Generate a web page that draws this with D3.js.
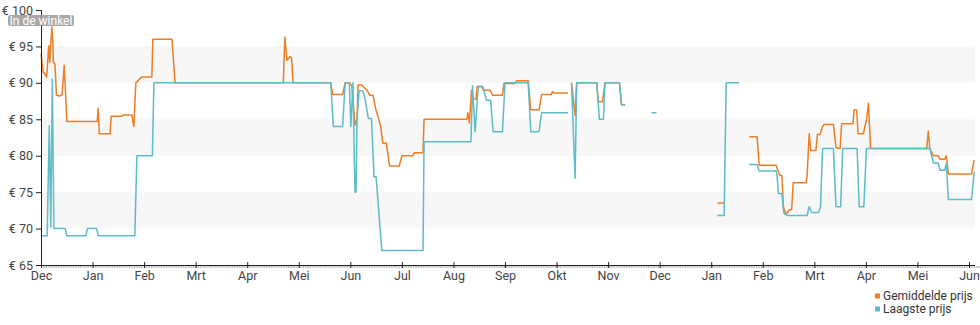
<!DOCTYPE html>
<html>
<head>
<meta charset="utf-8">
<script src="https://cdn.jsdelivr.net/npm/d3@7/dist/d3.min.js"></script>
<style>
  html, body { margin: 0; padding: 0; background: #fff; }
  svg { display: block; font-family: Roboto, "Noto Sans", sans-serif; }
</style>
</head>
<body>
<svg id="chart" width="980" height="325"></svg>
<script>
// Month labels along the x axis (one tick per month start)
const monthLabels = ["Dec","Jan","Feb","Mrt","Apr","Mei","Jun","Jul","Aug","Sep","Okt","Nov","Dec","Jan","Feb","Mrt","Apr","Mei","Jun"];

// Price ticks on the y axis
const priceTicks = [65, 70, 75, 80, 85, 90, 95, 100];

// Shaded price bands [from, to]
const bandFrom = [70, 80, 90];
const bandTo   = [75, 85, 95];

// Average price: position in months since the first December, and price (null = no data)
const avgMonth = [0,0.04,0.08,0.11,0.15,0.17,0.21,0.23,0.24,0.27,0.30,0.37,0.41,0.45,0.48,0.50,1.09,1.11,1.13,1.34,1.36,1.57,1.59,1.76,1.80,1.84,1.95,2.15,2.17,2.54,2.60,4.70,4.73,4.77,4.83,4.86,4.89,5.62,5.66,5.85,5.90,5.99,6.03,6.09,6.13,6.15,6.22,6.26,6.32,6.38,6.44,6.50,6.54,6.59,6.63,6.70,6.76,6.95,7.00,7.21,7.24,7.41,7.43,8.26,8.28,8.31,8.35,8.38,8.44,8.46,8.55,8.58,8.71,8.76,8.95,8.98,9.19,9.23,9.45,9.50,9.66,9.71,9.90,9.92,9.95,10.22,10.25,10.29,10.36,10.39,10.78,10.81,10.89,10.94,11.22,11.26,11.33,11.40,13.12,13.25,13.40,13.74,13.89,13.93,14.26,14.28,14.33,14.37,14.40,14.45,14.48,14.51,14.56,14.59,14.84,14.86,14.90,14.93,15.03,15.06,15.11,15.16,15.19,15.37,15.42,15.50,15.53,15.75,15.77,15.82,15.85,15.95,16.01,16.05,16.09,17.18,17.21,17.24,17.31,17.40,17.44,17.53,17.56,17.60,18.05,18.10];
const avgPrice = [94,91.5,91.2,90.8,95.1,92.8,97.7,95.5,92.8,92.6,88.3,88.2,88.4,92.4,88,84.7,84.7,86.5,83,83,85.4,85.4,85.6,85.6,84,90,90.8,90.8,96,96,90,90,96.3,93.1,93.6,93.4,90,90,88.4,88.4,90,90,89.5,84.2,85,89.7,89.7,89.4,89,88.3,88.3,86.2,85.3,84,81.7,81.7,78.6,78.6,80,80,80.4,80.4,85,85,85.9,84.5,89,87.8,87.8,89.5,89.5,89,89,88.3,88.3,89.9,89.9,90.3,90.3,86.3,86.3,88.4,88.4,88.8,88.6,88.6,null,90,85.5,90,90,87.4,87.4,90,90,87,87,null,73.5,73.5,null,82.6,82.6,78.7,78.7,78.2,77.3,77.3,73,72,72.2,72.6,72.6,76.3,76.3,77.3,83,80.7,80.7,82.9,82.9,84,84.3,84.3,81.1,81,84.4,84.4,86.3,86.3,83,83,84.9,87.2,81,81,83.4,81,80,80,79.5,79.5,80,77.5,77.5,79.4];

// Lowest price: position in months and price (null = no data)
const lowMonth = [0,0.12,0.16,0.19,0.22,0.25,0.47,0.50,0.87,0.90,1.08,1.11,1.82,1.86,2.16,2.19,5.62,5.67,5.85,5.90,5.98,6.01,6.05,6.09,6.11,6.13,6.17,6.24,6.28,6.35,6.41,6.46,6.50,6.61,7.41,7.43,8.34,8.37,8.42,8.48,8.57,8.64,8.72,8.77,8.95,9.00,9.45,9.50,9.66,9.71,10.22,10.25,10.29,10.36,10.39,10.78,10.83,10.91,10.94,11.22,11.26,11.33,11.50,11.84,11.94,12.50,13.12,13.25,13.29,13.54,13.64,13.74,13.89,13.93,14.26,14.28,14.30,14.37,14.41,14.47,14.86,14.90,14.95,15.08,15.12,15.16,15.37,15.42,15.51,15.55,15.83,15.87,15.96,16.01,17.24,17.31,17.40,17.44,17.53,17.56,17.60,18.05,18.10];
const lowPrice = [69,69,84.1,70.2,90.5,70,70,69,69,70,70,69,69,80,80,90,90,84,84,90,90,84,90,75,75,84.9,88.9,88.9,88,85.1,85.1,77.1,77.1,67,67,81.9,81.9,89.6,83.3,89.5,89.5,87.6,87.6,83.3,83.3,90,90,83.3,83.3,85.9,85.9,null,90,76.9,90,90,85,85,90,90,87,87,null,85.9,85.9,null,71.8,71.8,90,90,null,78.8,78.8,77.9,77.9,77.1,74.8,74.8,72.1,71.8,71.8,73,72.2,72.2,73,81,81,73,73,81,81,73,73,81,81,79,79,78,78,78.9,74,74,77.8];

const seriesNames  = ["Gemiddelde prijs", "Laagste prijs"];
const seriesColors = ["#ee7d24", "#5cbcc8"];

const svg = d3.select("#chart");
const margin = { left: 41, top: 10, right: 975, bottom: 265 };

const x = d3.scaleLinear().domain([0, 18]).range([41, 969]);
const y = d3.scaleLinear().domain([65, 100]).range([265, 10]);

// Shaded bands
svg.append("g").selectAll("rect")
  .data(bandFrom.map((f, i) => [f, bandTo[i]]))
  .join("rect")
  .attr("x", margin.left)
  .attr("width", margin.right - margin.left)
  .attr("y", d => y(d[1]))
  .attr("height", d => y(d[0]) - y(d[1]))
  .attr("fill", "#f7f7f7");

// Lines
function drawLine(months, prices, color) {
  const pts = months.map((m, i) => [m, prices[i]]);
  const line = d3.line()
    .defined(d => d[1] !== null)
    .x(d => x(d[0]))
    .y(d => y(d[1]));
  svg.append("path")
    .datum(pts)
    .attr("d", line)
    .attr("fill", "none")
    .attr("stroke", color)
    .attr("stroke-width", 1.5)
    .attr("stroke-linejoin", "round");
}
drawLine(avgMonth, avgPrice, seriesColors[0]);
drawLine(lowMonth, lowPrice, seriesColors[1]);

// Y axis
const yAxis = d3.axisLeft(y)
  .tickValues(priceTicks)
  .tickSize(5)
  .tickPadding(3)
  .tickFormat(d => "€ " + d);
const gy = svg.append("g").attr("transform", `translate(${margin.left},0)`).call(yAxis);
gy.select(".domain").attr("stroke", "#222");
gy.selectAll(".tick line").attr("stroke", "#222");
gy.selectAll(".tick text")
  .attr("fill", "#444")
  .style("font-size", "12.5px")
  .style("font-family", "Roboto, sans-serif");

// Minor day marks along the x axis
const dayMarks = d3.range(0, 18 * 30.5 + 8).map(d => d / 30.5);
svg.append("g").selectAll("line")
  .data(dayMarks)
  .join("line")
  .attr("x1", d => x(d) + 0.5)
  .attr("x2", d => x(d) + 0.5)
  .attr("y1", 266)
  .attr("y2", 268)
  .attr("stroke", "#888")
  .attr("stroke-width", 0.6);

// X axis
const xAxis = d3.axisBottom(x)
  .tickValues(d3.range(monthLabels.length))
  .tickSize(3)
  .tickPadding(3)
  .tickFormat(i => monthLabels[i]);
const gx = svg.append("g").attr("transform", `translate(0,${margin.bottom})`).call(xAxis);
gx.select(".domain").attr("d", `M${margin.left},0.5H${margin.right}`).attr("stroke", "#222");
gx.selectAll(".tick line").attr("y1", -3).attr("stroke", "#222");
gx.selectAll(".tick text")
  .attr("fill", "#444")
  .style("font-size", "12.5px")
  .style("font-family", "Roboto, sans-serif");

// "In de winkel" badge
const badge = svg.append("g").attr("transform", "translate(8,15)");
badge.append("rect")
  .attr("width", 66).attr("height", 11).attr("rx", 2.5)
  .attr("fill", "#a0a0a0").attr("fill-opacity", 0.9);
badge.append("text")
  .attr("x", 33).attr("y", 9.5)
  .attr("text-anchor", "middle")
  .attr("fill", "#fff")
  .style("font-size", "12px")
  .text("In de winkel");

// Legend
const legend = svg.append("g").attr("transform", "translate(875,292)");
seriesNames.forEach((name, i) => {
  const row = legend.append("g").attr("transform", `translate(0,${i * 13})`);
  row.append("rect").attr("width", 5).attr("height", 5).attr("y", 1.5).attr("fill", seriesColors[i]);
  row.append("text").attr("x", 8).attr("y", 8).attr("fill", "#333")
    .style("font-size", "12px").text(name);
});
</script>
</body>
</html>
